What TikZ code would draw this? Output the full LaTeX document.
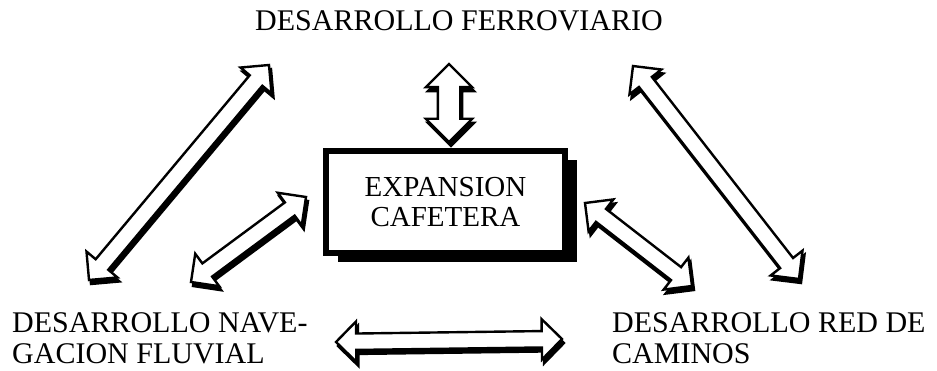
\documentclass[tikz,border=0pt]{standalone}
\usepackage{fontspec}
\setmainfont{Liberation Serif}
\usetikzlibrary{shapes.arrows,shadows,calc}

\tikzset{
  flecha/.style={double arrow, draw, line width=2.4pt, fill=white, inner xsep=0pt,
    minimum width=0pt, double arrow head extend=12pt, double arrow tip angle=90},
  sombra/.style={flecha, fill=black},
  caja/.style={draw, line width=6pt, fill=white, minimum width=239pt, minimum height=102pt,
    align=center, font=\fontsize{29}{30}\selectfont},
  rotulo/.style={inner sep=0pt, align=left, font=\fontsize{30}{31}\selectfont}
}

\begin{document}
\begin{tikzpicture}[x=1pt,y=-1pt]
\useasboundingbox (0,0) rectangle (937,371);

% textos
\node[inner sep=0pt, anchor=base, font=\fontsize{30}{32}\selectfont] (ferro) at (459,31) {DESARROLLO FERROVIARIO};
\node[caja, drop shadow={fill=black, opacity=1, shadow xshift=12pt, shadow yshift=-9pt}] (cafe) at (445.5,202) {EXPANSION\\CAFETERA};
\node[rotulo, anchor=north west] (nav) at (12,312) {DESARROLLO NAVE-\\GACION FLUVIAL};
\node[rotulo, anchor=north west] (cam) at (612,312) {DESARROLLO RED DE\\CAMINOS};

% extremos de las flechas
\coordinate (fer-a) at (449,64);
\coordinate (fer-b) at (449,142);
\coordinate (ln-a) at (269,65);
\coordinate (ln-b) at (89,280);
\coordinate (cn-a) at (306,197);
\coordinate (cn-b) at (191,282);
\coordinate (lc-a) at (633,66);
\coordinate (lc-b) at (799,279);
\coordinate (cc-a) at (585,203);
\coordinate (cc-b) at (692,286);
\coordinate (nc-a) at (336,342);
\coordinate (nc-b) at (562,339);

% flechas dobles
\foreach \a/\b/\w in {fer-a/fer-b/10pt, ln-a/ln-b/7pt, cn-a/cn-b/7pt, lc-a/lc-b/7pt, cc-a/cc-b/7pt, nc-a/nc-b/7pt}{
  \path[transform canvas={shift={(2,4)}}] let \p1=($(\b)-(\a)$), \n1={veclen(\x1,\y1)} in
    (\a) -- (\b) node[midway, sloped, sombra, minimum height=\n1, inner ysep=\w] {};
  \path let \p1=($(\b)-(\a)$), \n1={veclen(\x1,\y1)} in
    (\a) -- (\b) node[midway, sloped, flecha, minimum height=\n1, inner ysep=\w] {};
}
\end{tikzpicture}
\end{document}
